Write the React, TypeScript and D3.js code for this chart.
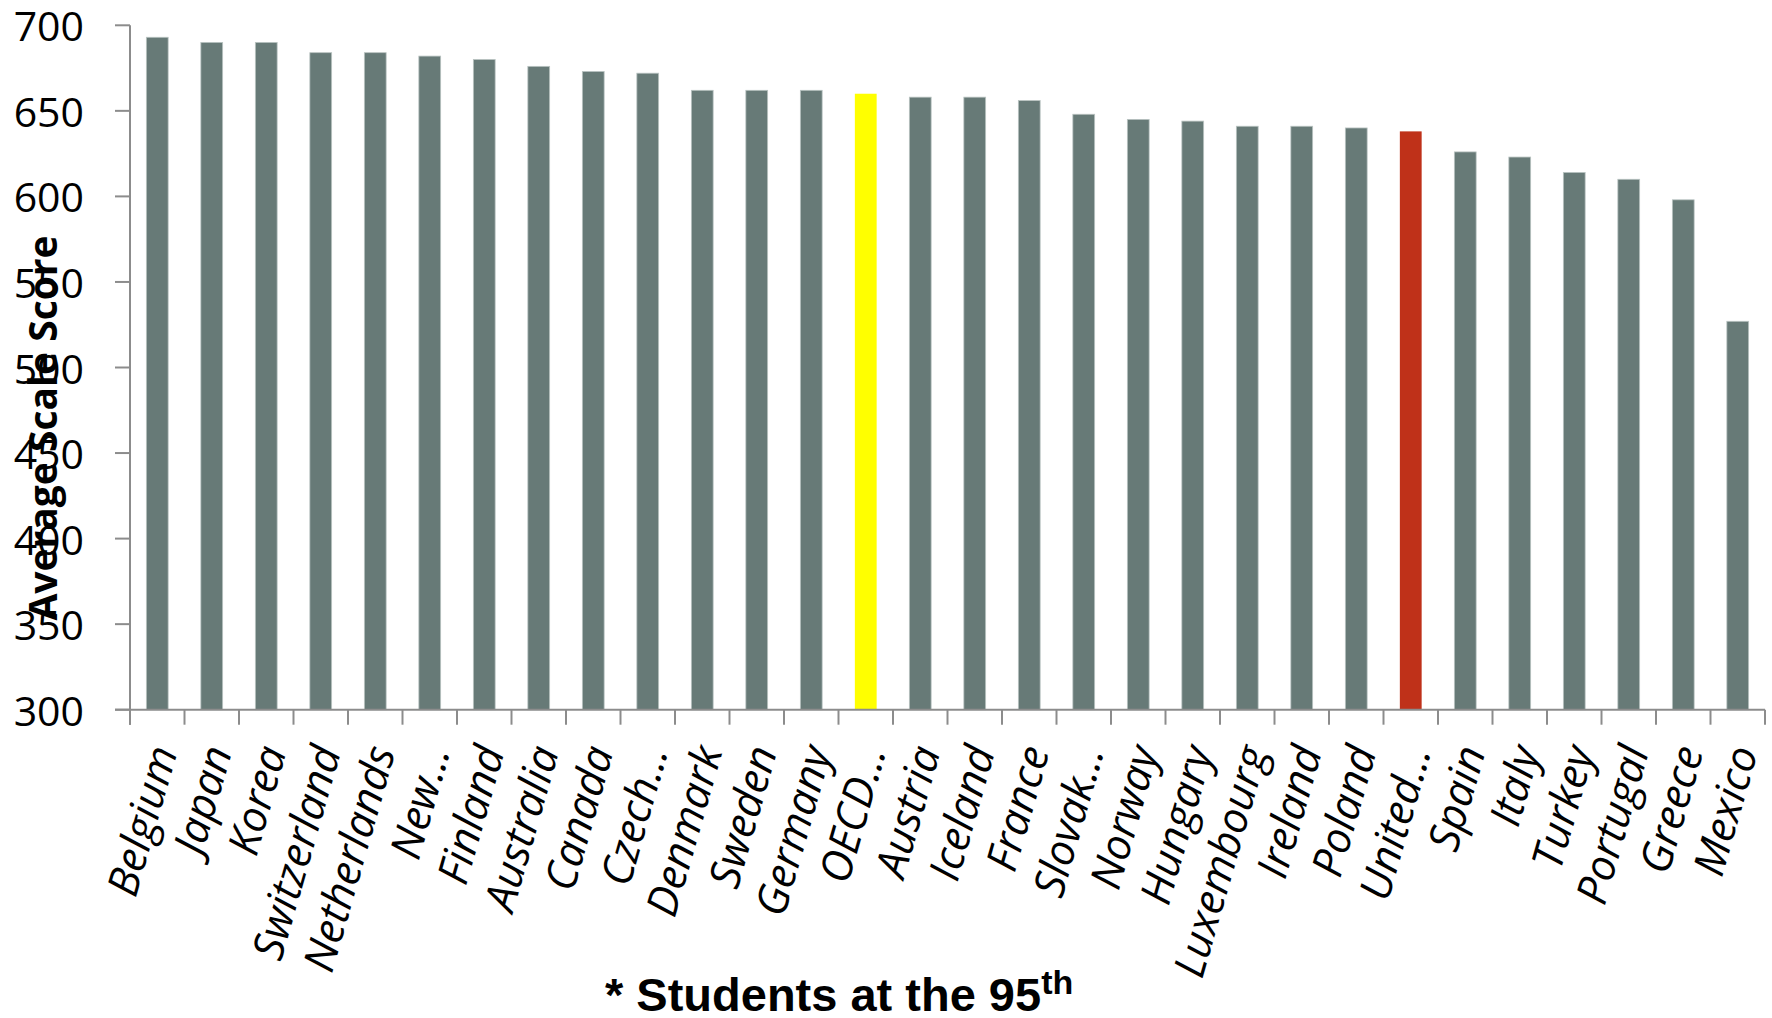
import React from "react";
import * as d3 from "d3";

const categories = [
  "Belgium", "Japan", "Korea", "Switzerland", "Netherlands", "New…", "Finland", "Australia",
  "Canada", "Czech…", "Denmark", "Sweden", "Germany", "OECD…", "Austria", "Iceland", "France",
  "Slovak…", "Norway", "Hungary", "Luxembourg", "Ireland", "Poland", "United…", "Spain",
  "Italy", "Turkey", "Portugal", "Greece", "Mexico",
];
const scores = [
  693, 690, 690, 684, 684, 682, 680, 676, 673, 672, 662, 662, 662, 660, 658, 658, 656,
  648, 645, 644, 641, 641, 640, 638, 626, 623, 614, 610, 598, 527,
];
const highlight: Record<string, string> = { "OECD…": "#ffff00", "United…": "#bf3119" };
const yTicks = [300, 350, 400, 450, 500, 550, 600, 650, 700];
const yTitle = "Average Scale Score";
const xTitle = "* Students at the 95";
const xTitleSup = "th";

const W = 1772;
const H = 1018;
const left = 130;
const right = 1765;
const top = 25.3;
const bottom = 709.7;

export default function App() {
  const x = d3.scaleBand<string>().domain(categories).range([left, right]).paddingInner(0).paddingOuter(0);
  const y = d3.scaleLinear().domain([300, 700]).range([bottom, top]);
  const bw = x.bandwidth();
  const barW = bw / 2.5;
  const axisColor = "#8c8c8c";
  const boundaries = categories.map((c) => x(c) as number).concat([right]);

  return (
    <svg width={W} height={H} style={{ position: "absolute", left: 0, top: 0, background: "#fff" }}>
      <rect x={0} y={0} width={W} height={H} fill="#fff" />
      {categories.map((c, i) => {
        const cx = (x(c) as number) + bw / 2;
        return (
          <rect
            key={c}
            x={cx - barW / 2}
            y={y(scores[i])}
            width={barW}
            height={y(300) - y(scores[i])}
            fill={highlight[c] || "#677a77"}
            stroke={highlight[c] ? "none" : "#b9c3c1"}
            strokeWidth={0.8}
          />
        );
      })}
      {/* y axis */}
      <line x1={left} x2={left} y1={top} y2={bottom + 15} stroke={axisColor} strokeWidth={2} />
      {yTicks.map((t) => (
        <g key={t}>
          <line x1={left - 15} x2={left} y1={y(t)} y2={y(t)} stroke={axisColor} strokeWidth={2} />
          <text
            x={84}
            y={y(t)}
            textAnchor="end"
            dominantBaseline="central"
            fontFamily="'Open Sans', sans-serif"
            fontSize={41}
            fill="#000"
          >
            {t}
          </text>
        </g>
      ))}
      {/* x axis */}
      <line x1={left - 15} x2={right} y1={bottom} y2={bottom} stroke={axisColor} strokeWidth={2} />
      {boundaries.map((bx, i) => (
        <line key={i} x1={bx} x2={bx} y1={bottom} y2={bottom + 15} stroke={axisColor} strokeWidth={2} />
      ))}
      {categories.map((c) => {
        const cx = (x(c) as number) + bw / 2;
        return (
          <text
            key={c}
            transform={`translate(${cx + 6},${747}) rotate(-74)`}
            textAnchor="end"
            dy="0.35em"
            fontFamily="'Open Sans', sans-serif"
            fontStyle="italic"
            fontSize={43}
            fill="#000"
          >
            {c}
          </text>
        );
      })}
      {/* axis titles */}
      <text
        transform={`translate(57,428) rotate(-90)`}
        textAnchor="middle"
        fontFamily="'Open Sans', sans-serif"
        fontWeight="bold"
        fontSize={39}
        fill="#000"
      >
        {yTitle}
      </text>
      <text x={605} y={1011} fontFamily="'Liberation Sans', Arial, sans-serif" fontWeight="bold" fontSize={47} fill="#000">
        {xTitle}
        <tspan fontSize={34} dy={-17}>
          {xTitleSup}
        </tspan>
      </text>
    </svg>
  );
}
